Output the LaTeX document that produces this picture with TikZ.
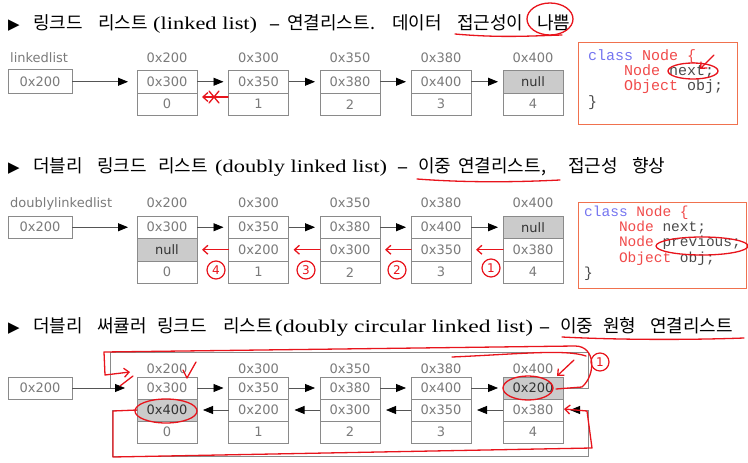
\documentclass[tikz,border=0pt]{standalone}
\usepackage{fontspec}
\setmainfont{Liberation Serif}
\newfontfamily\kr{Noto Sans CJK KR}
\newfontfamily\dv{DejaVu Sans}
\newfontfamily\cm{Liberation Mono}
\usetikzlibrary{positioning,arrows.meta}
\definecolor{box}{HTML}{8A8A8A}
\definecolor{wire}{HTML}{555555}
\definecolor{txt}{HTML}{7A7A7A}
\definecolor{hit}{HTML}{CBCBCB}
\definecolor{ink}{HTML}{E8141C}
\definecolor{codeframe}{HTML}{F0714E}
\definecolor{kw}{HTML}{7474F0}
\definecolor{ty}{HTML}{F04A4A}
\definecolor{id}{HTML}{4A4A4A}
\tikzset{
  cell/.style={draw=box, line width=0.8pt, outer sep=0pt, inner sep=0pt,
    minimum width=60pt, minimum height=22.5pt, text=txt,
    font=\dv\fontsize{13}{13}\selectfont},
  gcell/.style={fill=hit, text=black!80},
  wcell/.style={},
  addr/.style={anchor=base, inner sep=0pt, text=txt, font=\dv\fontsize{13}{13}\selectfont},
  ttl/.style={anchor=base west, inner sep=0pt, font=\kr\fontsize{18}{18}\selectfont},
  lat/.style={ttl, font=\rmfamily\fontsize{18}{18}\selectfont},
  dash line/.style={ttl, font=\rmfamily\bfseries\fontsize{18}{18}\selectfont},
  bullet/.style={ttl, font=\dv\fontsize{15}{15}\selectfont},
  code/.style={anchor=base west, inner sep=0pt, text=id, font=\cm\fontsize{15}{15}\selectfont},
  frm/.style={draw=codeframe, line width=1pt},
  link/.style={draw=wire, line width=0.8pt},
  pen/.style={draw=ink, line width=1.3pt, line cap=round, line join=round},
  barb/.style={-{Straight Barb[length=5pt,width=9pt]}},
  num/.style={circle, draw=ink, line width=1.2pt, text=ink, inner sep=0pt,
    minimum size=18pt, font=\dv\fontsize{12}{12}\selectfont},
}
\begin{document}
\begin{tikzpicture}[x=1pt, y=-1pt, >={Triangle[length=10pt,width=8pt,color=black]}]
\useasboundingbox (0,0) rectangle (748,463);

% linked list
\node[bullet] (t1m) at (8,30) {▶};
\foreach \x/\w [count=\k] in {33/링크드, 98/리스트, 287/연결리스트., 392/데이터, 457/접근성이, 537/나쁨}
  \node[ttl] (t1w\k) at (\x,30) {\w};
\node[lat] (t1e) at (153,30) {\scalebox{1.245}[1]{(linked list)}};
\node[dash line] (t1d) at (270,30) {–};

\node[addr, anchor=base west] (s1l) at (10,62) {linkedlist};
\node[cell, minimum width=64pt, minimum height=24pt] (s1h) at (40,81.75) {0x200};
\foreach \x/\ad/\nx/\fa [count=\i from 0] in {167/0x200/0x300/wcell, 258.5/0x300/0x350/wcell,
    350/0x350/0x380/wcell, 441/0x380/0x400/wcell, 533/0x400/null/gcell}{
  \node[cell,\fa] (s1n\i) at (\x,81.75) {\nx};
  \node[cell, below=0pt of s1n\i] (s1d\i) {\i};
  \node[addr] (s1a\i) at (\x,62) {\ad};
}
\draw[->, link, shorten >=9pt] (s1h) -- (s1n0);
\foreach \i/\j in {0/1,1/2,2/3,3/4}
  \draw[->, link, shorten >=5pt] (s1n\i) -- (s1n\j);

\draw[frm] (578,42) rectangle (737,124);
\node[code] (s1k1) at (588,60) {\textcolor{kw}{class} \textcolor{ty}{Node \{}};
\node[code] (s1k2) at (588,75) {\ \ \ \ \textcolor{ty}{Node} next;};
\node[code] (s1k3) at (588,90.5) {\ \ \ \ \textcolor{ty}{Object} obj;};
\node[code] (s1k4) at (588,106) {\}};

% doubly linked list
\node[bullet] (t2m) at (8,172) {▶};
\foreach \x/\w [count=\k] in {33/더블리, 97/링크드, 158/리스트, 418/이중, 458/{연결리스트,}, 568/접근성, 632/향상}
  \node[ttl] (t2w\k) at (\x,172) {\w};
\node[lat] (t2e) at (215,172) {\scalebox{1.246}[1]{(doubly linked list)}};
\node[dash line] (t2d) at (398,172) {–};

\node[addr, anchor=base west] (s2l) at (10,207) {doublylinkedlist};
\node[cell, minimum width=64pt, minimum height=22pt] (s2h) at (40,227.25) {0x200};
\foreach \x/\ad/\nx/\pv/\fa/\fb [count=\i from 0] in {167/0x200/0x300/null/wcell/gcell,
    258.5/0x300/0x350/0x200/wcell/wcell, 350/0x350/0x380/0x300/wcell/wcell,
    441/0x380/0x400/0x350/wcell/wcell, 533/0x400/null/0x380/gcell/wcell}{
  \node[cell,\fa] (s2n\i) at (\x,227.25) {\nx};
  \node[cell,\fb, below=0pt of s2n\i] (s2p\i) {\pv};
  \node[cell, below=0pt of s2p\i] (s2d\i) {\i};
  \node[addr] (s2a\i) at (\x,207) {\ad};
}
\draw[->, link, shorten >=9pt] (s2h) -- (s2n0);
\foreach \i/\j in {0/1,1/2,2/3,3/4}
  \draw[->, link, shorten >=5pt] (s2n\i) -- (s2n\j);

\draw[frm] (578,202) rectangle (746,288);
\node[code, font=\cm\fontsize{14.5}{14.5}\selectfont] (s2k1) at (584,216) {\textcolor{kw}{class} \textcolor{ty}{Node \{}};
\node[code, font=\cm\fontsize{14.5}{14.5}\selectfont] (s2k2) at (584,231) {\ \ \ \ \textcolor{ty}{Node} next;};
\node[code, font=\cm\fontsize{14.5}{14.5}\selectfont] (s2k3) at (584,246) {\ \ \ \ \textcolor{ty}{Node} previous;};
\node[code, font=\cm\fontsize{14.5}{14.5}\selectfont] (s2k4) at (584,262) {\ \ \ \ \textcolor{ty}{Object} obj;};
\node[code, font=\cm\fontsize{14.5}{14.5}\selectfont] (s2k5) at (584,277) {\}};

% doubly circular linked list
\node[bullet] (t3m) at (8,332) {▶};
\foreach \x/\w [count=\k] in {33/더블리, 97/써큘러, 157/링크드, 223/리스트, 560/이중, 603/원형, 650/연결리스트}
  \node[ttl] (t3w\k) at (\x,332) {\w};
\node[lat] (t3e) at (275,332) {\scalebox{1.306}[1]{(doubly circular linked list)}};
\node[dash line] (t3d) at (540,332) {–};

\node[cell, minimum width=64pt, minimum height=22pt] (s3h) at (40,388) {0x200};
\foreach \x/\ad/\nx/\pv/\fa/\fb [count=\i from 0] in {167/0x200/0x300/0x400/wcell/gcell,
    258.5/0x300/0x350/0x200/wcell/wcell, 350/0x350/0x380/0x300/wcell/wcell,
    441/0x380/0x400/0x350/wcell/wcell, 533/0x400/0x200/0x380/gcell/wcell}{
  \node[cell,\fa, minimum height=22pt] (s3n\i) at (\x,388) {\nx};
  \node[cell,\fb, minimum height=22pt, below=0pt of s3n\i] (s3p\i) {\pv};
  \node[cell, minimum height=22pt, below=0pt of s3p\i] (s3d\i) {\i};
  \node[addr] (s3a\i) at (\x,373) {\ad};
}
\draw[->, link, shorten >=12pt] (s3h) -- (s3n0);
\foreach \i/\j in {0/1,1/2,2/3,3/4}{
  \draw[->, link, shorten >=5pt] (s3n\i) -- (s3n\j);
  \draw[->, link, shorten >=6pt] (s3p\j) -- (s3p\i);
}
\coordinate (s3ur) at (588,352);
\coordinate (s3ul) at (110,352);
\coordinate (s3ll) at (112,456);
\coordinate (s3lr) at (588,456);
\draw[link, draw=box] (s3n4.east) -| (s3ur) -- (s3ul) -- (s3ul |- s3h.east);
\draw[->, link, draw=box, shorten >=7pt] (s3p0.west) -| (s3ll) -- (s3lr) |- (s3p4.east);

% red pen notes
\draw[pen] (455,34) .. controls (500,38) and (530,36) .. (562,35);
\draw[pen] (550,19) ellipse [x radius=23pt, y radius=16pt];
\draw[pen, barb] (228,97) -- (202,97);
\draw[pen] (209,91) -- (219,103) (219,91) -- (209,103);
\draw[pen] (693,71) ellipse [x radius=25pt, y radius=8pt];
\draw[pen, barb] (714,55) -- (700,69);

\draw[pen] (417,179) .. controls (470,183) and (520,182) .. (560,180);
\draw[pen] (702,246) ellipse [x radius=46pt, y radius=9pt];
\foreach \i/\j in {0/1,1/2,2/3,3/4}
  \draw[pen, barb, shorten >=5pt] (s2p\j) -- (s2p\i);
\node[num] (r4) at (216,270) {4};
\node[num] (r3) at (306,270) {3};
\node[num] (r2) at (397,270) {2};
\node[num] (r1) at (491,268) {1};

\draw[pen] (562,337) .. controls (620,340) and (690,340) .. (744,338);
\draw[pen, barb] (556,389) -- (582,387) .. controls (596,375) and (596,346) .. (575,346)
  -- (104,352) -- (105,375) -- (130,372);
\draw[pen] (452,357) .. controls (520,354) and (565,349) .. (586,356);
\draw[pen] (120,386) -- (133,376);
\draw[pen] (183,370) -- (187,378) -- (196,362);
\draw[pen] (528,388) ellipse [x radius=25pt, y radius=12pt];
\draw[pen] (166,411) ellipse [x radius=31pt, y radius=12pt];
\node[num] (r1b) at (600,362) {1};
\draw[pen, barb] (574,360) -- (557,376);
\draw[pen, barb] (137,410) -- (113,411) -- (113,457) -- (592,448) -- (587,411) -- (564,409);
\end{tikzpicture}
\end{document}
